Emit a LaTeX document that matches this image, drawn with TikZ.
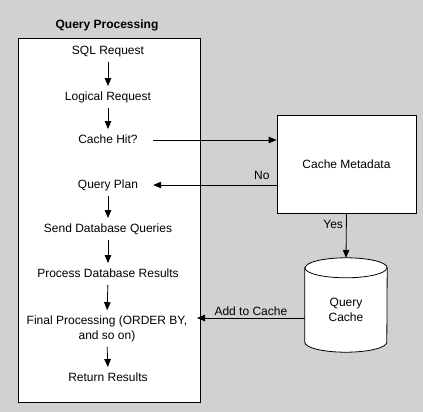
\documentclass[tikz,border=0pt]{standalone}
\usepackage{fontspec}
\setmainfont{Liberation Sans}
\usetikzlibrary{arrows.meta}
\definecolor{bggray}{RGB}{209,209,209}
\tikzset{
  x=1pt, y=1pt,
  arr/.style={draw=black, line width=0.8pt, -{Triangle[length=8pt,width=6.5pt]}},
  stepnode/.style={inner sep=2pt, text height=9pt, text depth=2.5pt, font=\fontsize{12}{15}\selectfont},
  lbl/.style={inner sep=1pt, font=\fontsize{12}{15}\selectfont},
  boxnode/.style={draw=black, line width=0.8pt, fill=white, inner sep=0pt},
}
\begin{document}
\begin{tikzpicture}
\fill[bggray] (0,0) rectangle (423,-412);
\useasboundingbox (0,0) rectangle (423,-412);

% title and frame
\node[font=\fontsize{12}{15}\selectfont\bfseries, inner sep=0pt] (title) at (107,-25) {Query Processing};
\node[boxnode, minimum width=182pt, minimum height=364pt] (frame) at (109,-220) {};

% steps
\node[stepnode] (sql) at (108,-51) {SQL Request};
\node[stepnode] (lr) at (108,-97) {Logical Request};
\node[stepnode] (ch) at (108,-140) {Cache Hit?};
\node[stepnode] (qp) at (108,-185) {Query Plan};
\node[stepnode] (sdq) at (108,-229) {Send Database Queries};
\node[stepnode] (pdr) at (108,-274) {Process Database Results};
\node[stepnode, align=center, text height=, text depth=] (fp) at (107,-328.5) {Final Processing (ORDER BY,\\and so on)};
\node[stepnode] (rr) at (108,-378) {Return Results};

\foreach \a/\b in {sql/lr, lr/ch, qp/sdq, sdq/pdr, pdr/fp, fp/rr}
  \draw[arr, shorten <=3pt, shorten >=3pt] (\a.south) -- (\b.north);

% cache metadata
\node[boxnode, minimum width=139pt, minimum height=98pt, font=\fontsize{12}{15}\selectfont] (cm) at (346.5,-164) {Cache Metadata};

% query cache cylinder
\node[inner sep=0pt, minimum width=82pt, minimum height=94pt] (qc) at (346,-305) {};
\draw[line width=0.8pt, fill=white]
  ([yshift=-10pt]qc.north west) -- ([yshift=10pt]qc.south west)
  arc[start angle=180, end angle=360, x radius=41pt, y radius=10pt]
  -- ([yshift=-10pt]qc.north east)
  arc[start angle=0, end angle=180, x radius=41pt, y radius=10pt] -- cycle;
\draw[line width=0.8pt] ([yshift=-10pt]qc.north west)
  arc[start angle=180, end angle=360, x radius=41pt, y radius=10pt];
\node[align=center, font=\fontsize{12}{14.5}\selectfont, inner sep=0pt] (qct) at (346,-310) {Query\\Cache};

% connectors
\draw[arr] ([xshift=13pt]ch.east) -- (cm.west |- ch.east);
\draw[arr] (cm.west |- qp.east) -- node[lbl, pos=0.12, above=4pt] (no) {No} ([xshift=13pt]qp.east);
\draw[arr] (cm.south) -- node[lbl, left=2pt, pos=0.25] (yes) {Yes} (qc.north);
\coordinate (fpin) at (197,-318);
\draw[arr] (qc.west |- fpin) -- node[lbl, above=1pt] (add) {Add to Cache} (fpin);
\end{tikzpicture}
\end{document}
